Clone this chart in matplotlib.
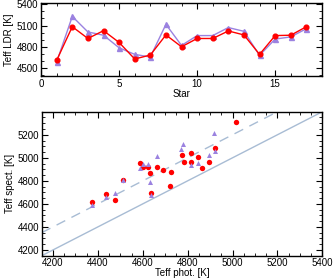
import matplotlib
matplotlib.use("Agg")
import matplotlib.pyplot as plt
from matplotlib.ticker import MultipleLocator

# ---- top panel data ----
stars = list(range(1, 18))
ldr_red = [4610, 5083, 4917, 5027, 4861, 4628, 4684, 4967, 4800, 4917, 4917, 5023, 4967, 4693, 4958, 4963, 5083]
ldr_purple = [4586, 5228, 5009, 4963, 4786, 4693, 4656, 5116, 4819, 4958, 4958, 5071, 5018, 4679, 4909, 4939, 5055]

# ---- bottom panel data ----
red_phot = [4373, 4437, 4477, 4514, 4588, 4603, 4622, 4633, 4637, 4662, 4689, 4728, 4720,
            4773, 4782, 4815, 4815, 4848, 4862, 4896, 4921, 5015]
red_spec = [4614, 4683, 4634, 4803, 4959, 4924, 4924, 4864, 4695, 4919, 4893, 4881, 4752,
            5025, 4965, 5045, 4962, 5010, 4910, 4962, 5085, 5312]
pur_phot = [4373, 4437, 4477, 4514, 4588, 4600, 4622, 4633, 4637, 4662, 4778, 4772, 4815,
            4848, 4896, 4923, 4919]
pur_spec = [4591, 4660, 4691, 4803, 4910, 4947, 4947, 4786, 4680, 5016, 5117, 5074, 4936,
            4959, 5022, 5059, 5212]
line_x = [4150, 5400]
offset = 200

RED = "#ff0000"
PUR = "#9b82e0"
BLUE = "#a8bcd4"

plt.rcParams['font.family'] = ['Liberation Sans', 'DejaVu Sans']
plt.rcParams['font.size'] = 7

fig = plt.figure(figsize=(3.34, 2.79), dpi=100)

def style(ax):
    ax.tick_params(which='both', direction='in', top=True, right=True, labelsize=7, pad=2)
    ax.tick_params(which='major', length=4, width=0.8)
    ax.tick_params(which='minor', length=2, width=0.6)
    for s in ax.spines.values():
        s.set_linewidth(1.0)

ax1 = fig.add_axes([0.123, 0.728, 0.841, 0.262])
ax1.plot(stars, ldr_red, color=RED, lw=1.0, marker='o', ms=3.4, mec=RED, mfc=RED, zorder=3)
ax1.plot(stars, ldr_purple, color=PUR, lw=1.0, marker='^', ms=3.6, mec=PUR, mfc=PUR, zorder=2)
ax1.set_xlim(0, 18)
ax1.set_ylim(4390, 5420)
ax1.set_xticks([0, 5, 10, 15])
ax1.set_yticks([4500, 4800, 5100, 5400])
ax1.xaxis.set_minor_locator(MultipleLocator(1))
ax1.yaxis.set_minor_locator(MultipleLocator(100))
ax1.set_xlabel("Star", labelpad=0)
ax1.set_ylabel("Teff LDR [K]", labelpad=2)
style(ax1)

ax2 = fig.add_axes([0.125, 0.0835, 0.840, 0.516])
ax2.plot(line_x, line_x, color=BLUE, lw=1.0, zorder=1)
ax2.plot(line_x, [v + offset for v in line_x], color=BLUE, lw=1.0, dashes=(7, 5), zorder=1)
ax2.scatter(red_phot, red_spec, s=15, color=RED, marker='o', linewidths=0, zorder=2)
ax2.scatter(pur_phot, pur_spec, s=13, color=PUR, marker='^', linewidths=0, zorder=3)
ax2.set_xlim(4150, 5400)
ax2.set_ylim(4150, 5400)
ax2.set_xticks(range(4200, 5401, 200))
ax2.set_yticks(range(4200, 5201, 200))
ax2.xaxis.set_minor_locator(MultipleLocator(50))
ax2.yaxis.set_minor_locator(MultipleLocator(50))
ax2.set_xlabel("Teff phot. [K]", labelpad=0)
ax2.set_ylabel("Teff spect. [K]", labelpad=2)
style(ax2)

fig.savefig("out.png", dpi=100)
